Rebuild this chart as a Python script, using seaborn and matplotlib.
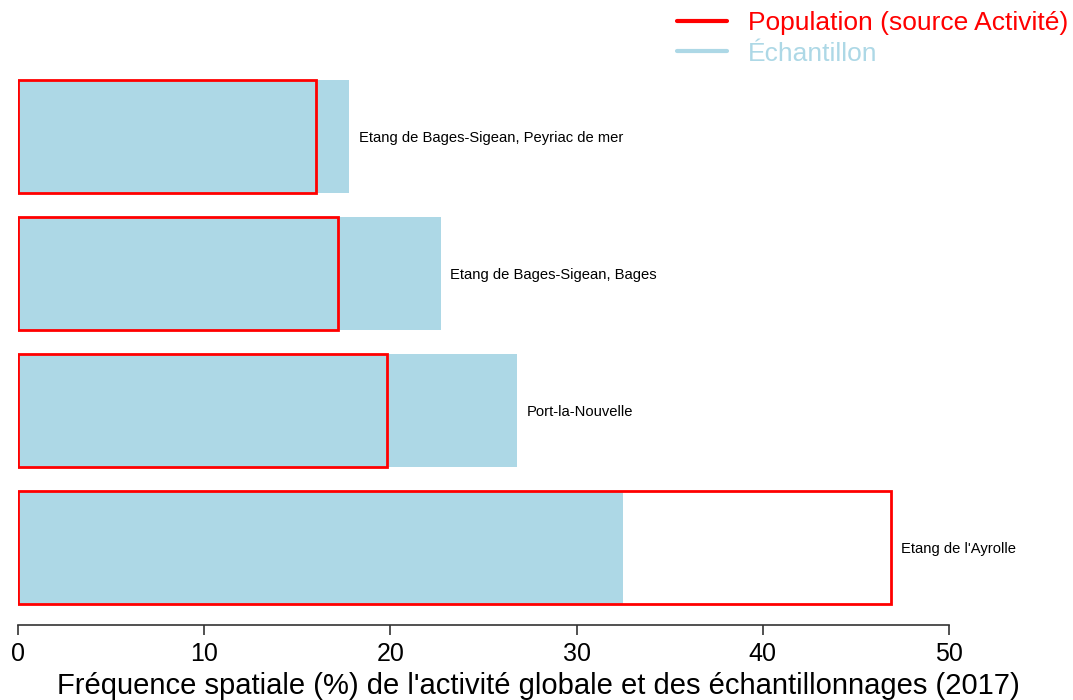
import matplotlib
matplotlib.use("Agg")
import matplotlib.pyplot as plt
import seaborn as sns
import pandas as pd
from matplotlib.lines import Line2D

sites = ["Etang de Bages-Sigean, Peyriac de mer",
         "Etang de Bages-Sigean, Bages",
         "Port-la-Nouvelle",
         "Etang de l'Ayrolle"]
echantillon = [17.8, 22.7, 26.8, 32.5]
population = [16.0, 17.2, 19.8, 46.9]
xticks = [0, 10, 20, 30, 40, 50]

df = pd.DataFrame({"site": sites, "ech": echantillon, "pop": population})

sns.set_theme(style="white")
plt.rcParams['font.family'] = ['Liberation Sans', 'DejaVu Sans']

fig = plt.figure(figsize=(10.73, 7.0), dpi=100)
ax = fig.add_axes([18/1073, 1-625/700, (949-18)/1073, (625-70)/700])

sns.barplot(data=df, x="ech", y="site", orient="h", color="#ADD8E6",
            saturation=1, width=0.825, linewidth=0, ax=ax)
sns.barplot(data=df, x="pop", y="site", orient="h", fill=False,
            edgecolor="#FF0000", linewidth=2, width=0.825, ax=ax)

for i, (s, e, p) in enumerate(zip(sites, echantillon, population)):
    ax.text(max(e, p) + 0.5, i + 0.01, s, ha="left", va="center", fontsize=10.6, color="black")

ax.set_xlim(0, 50)
ax.set_ylim(3.566, -0.485)
ax.set_xticks(xticks)
ax.set_xticklabels([str(t) for t in xticks], fontsize=18, color="black")
ax.set_yticks([])
ax.set_ylabel("")
ax.set_xlabel("Fréquence spatiale (%) de l'activité globale et des échantillonnages (2017)",
              fontsize=21, color="black")
ax.xaxis.set_label_coords((538 - 18) / 931, -(686 - 625) / 555, transform=ax.transAxes)
ax.xaxis.label.set_va("center")
for sp in ["top", "right", "left"]:
    ax.spines[sp].set_visible(False)
ax.spines["bottom"].set_color("#333333")
ax.spines["bottom"].set_linewidth(1.2)
ax.tick_params(axis="x", bottom=True, length=7, width=1.2, color="#333333", pad=5)

handles = [Line2D([0], [0], color="#FF0000", lw=3),
           Line2D([0], [0], color="#ADD8E6", lw=3)]
fig.legend(handles, ["Population (source Activité)", "Échantillon"],
           loc="upper right", bbox_to_anchor=(1068/1073, 1.0 - 11/700), frameon=False,
           fontsize=19, labelcolor="linecolor", handlelength=1.9,
           handletextpad=0.8, labelspacing=0.25, borderaxespad=0.0, borderpad=0.0)

fig.savefig("out.png", dpi=100, facecolor="white")
